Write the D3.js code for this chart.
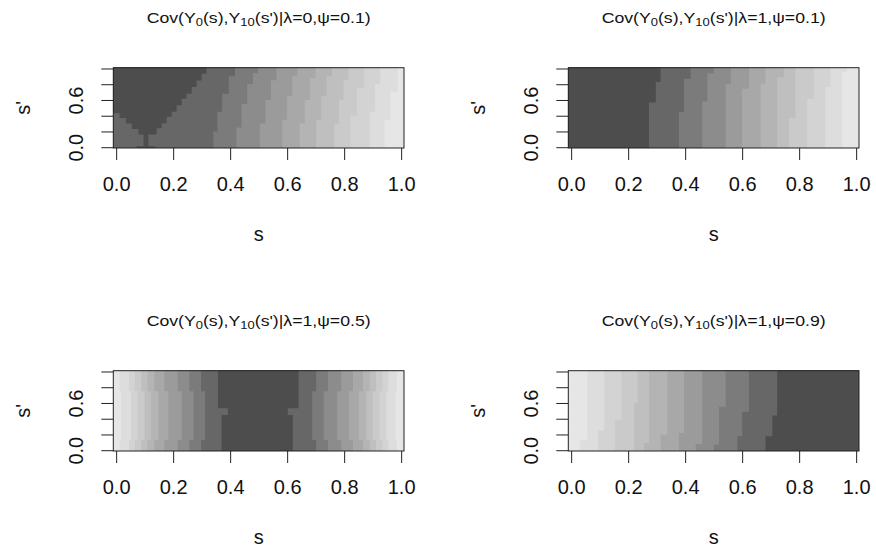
<!DOCTYPE html>
<html>
<head>
<meta charset="utf-8">
<script src="https://cdn.jsdelivr.net/npm/d3@7"></script>
<style>
body{margin:0;background:#fff}
text{font-family:"Liberation Sans",Arial,Helvetica,sans-serif;fill:#111}
</style>
</head>
<body>
<div id="chart"></div>
<script>
// panel parameters (titles)
var lambdas=[0,1,1,1];
var psis=[0.1,0.1,0.5,0.9];
var xTicks=[0,0.2,0.4,0.6,0.8,1];
var yTicks=[0,0.2,0.4,0.6,0.8,1];
var yTickLabels=[0,0.6];
var nLevels=12;

// contour regions, level k = area where level <= k
// each boundary is a list of steps [s' from, s], null = edge of the plot
var p1Lo=[
  [[-0.01,0.072],[0.013,0.096],[0.16,0.078],[0.23,0.055],[0.30,0.035],[0.37,0.012],[0.433,-0.01]],
  null,null,null,null,null,null,null,null,null,null];
var p1Hi=[
  [[-0.01,0.137],[0.013,0.113],[0.16,0.142],[0.24,0.16],[0.303,0.177],[0.387,0.195],[0.45,0.212],[0.534,0.23],[0.617,0.247],[0.68,0.265],[0.765,0.282],[0.848,0.30],[0.932,0.317]],
  [[-0.01,0.341],[0.2,0.355],[0.45,0.372],[0.68,0.395],[0.9,0.417]],
  [[-0.01,0.422],[0.25,0.44],[0.55,0.46],[0.8,0.48],[0.94,0.498]],
  [[-0.01,0.504],[0.3,0.524],[0.6,0.543],[0.85,0.562]],
  [[-0.01,0.583],[0.35,0.6],[0.65,0.618],[0.9,0.635]],
  [[-0.01,0.644],[0.3,0.662],[0.6,0.68],[0.88,0.70]],
  [[-0.01,0.702],[0.35,0.72],[0.65,0.738],[0.9,0.757]],
  [[-0.01,0.766],[0.3,0.782],[0.6,0.798],[0.85,0.815]],
  [[-0.01,0.822],[0.4,0.845],[0.75,0.87]],
  [[-0.01,0.889],[0.45,0.908],[0.8,0.927]],
  [[-0.01,0.942],[0.35,0.962],[0.7,0.988]]];

var p2Lo=[null,null,null,null,null,null,null,null,null,null,null];
var p2Hi=[
  [[-0.01,0.273],[0.567,0.297],[0.827,0.314]],
  [[-0.01,0.378],[0.45,0.396],[0.869,0.419]],
  [[-0.01,0.46],[0.58,0.478],[0.937,0.50]],
  [[-0.01,0.542],[0.80,0.56]],
  [[-0.01,0.60],[0.743,0.624]],
  [[-0.01,0.665],[0.806,0.682]],
  [[-0.01,0.723],[0.89,0.746]],
  [[-0.01,0.764],[0.37,0.787]],
  [[-0.01,0.828],[0.617,0.852]],
  [[-0.01,0.892],[0.765,0.91]],
  [[-0.01,0.951],[0.96,0.968]]];

var p3Lo=[
  [[-0.01,0.37],[0.448,0.392],[0.532,0.357]],
  [[-0.01,0.298],[0.13,0.312],[0.75,0.298]],
  [[-0.01,0.257],[0.13,0.272],[0.75,0.257]],
  [[-0.01,0.216],[0.13,0.23],[0.75,0.216]],
  [[-0.01,0.169],[0.13,0.183],[0.75,0.169]],
  [[-0.01,0.134],[0.13,0.148],[0.75,0.134]],
  [[-0.01,0.11],[0.13,0.122],[0.75,0.11]],
  [[-0.01,0.088],[0.13,0.1],[0.75,0.088]],
  [[-0.01,0.065],[0.13,0.075],[0.75,0.065]],
  [[-0.01,0.045],[0.13,0.052],[0.75,0.045]],
  [[-0.01,0.012],[0.13,0.018],[0.75,0.012]]];
var p3Hi=[
  [[-0.01,0.62],[0.448,0.602],[0.532,0.64]],
  [[-0.01,0.702],[0.13,0.688],[0.75,0.702]],
  [[-0.01,0.743],[0.13,0.728],[0.75,0.743]],
  [[-0.01,0.79],[0.13,0.776],[0.75,0.79]],
  [[-0.01,0.831],[0.13,0.817],[0.75,0.831]],
  [[-0.01,0.866],[0.13,0.852],[0.75,0.866]],
  [[-0.01,0.89],[0.13,0.878],[0.75,0.89]],
  [[-0.01,0.912],[0.13,0.9],[0.75,0.912]],
  [[-0.01,0.935],[0.13,0.925],[0.75,0.935]],
  [[-0.01,0.955],[0.13,0.948],[0.75,0.955]],
  [[-0.01,0.985],[0.13,0.98],[0.75,0.985]]];

var p4Lo=[
  [[-0.01,0.682],[0.176,0.706],[0.44,0.723]],
  [[-0.01,0.583],[0.176,0.60],[0.49,0.624]],
  [[-0.01,0.501],[0.072,0.519],[0.552,0.542]],
  [[-0.01,0.437],[0.08,0.46]],
  [[-0.01,0.378],[0.22,0.396]],
  [[-0.01,0.314],[0.2,0.338]],
  [[-0.01,0.256],[0.093,0.273]],
  [[-0.01,0.221],[0.595,0.233]],
  [[-0.01,0.154],[0.385,0.177]],
  [[-0.01,0.095],[0.25,0.116]],
  [[-0.01,0.031],[0.134,0.057]]];
var p4Hi=[null,null,null,null,null,null,null,null,null,null,null];

var los=[p1Lo,p2Lo,p3Lo,p4Lo];
var his=[p1Hi,p2Hi,p3Hi,p4Hi];

var W=876, H=550;
var panelLeft=[113.3,568.3,113.3,568.3];
var panelTop=[67.7,67.7,370.7,370.7];
var plotW=290.7, plotH=80.3;
var ext=[-0.01,1.01];

// grey palette like R gray.colors
var g0=Math.pow(0.3,2.2), g1=Math.pow(0.9,2.2);
var greys=d3.range(nLevels).map(function(i){
  var c=Math.round(255*Math.pow(g0+(g1-g0)*i/(nLevels-1),1/2.2));
  return d3.rgb(c,c,c).toString();
});

var svg=d3.select("#chart").append("svg").attr("width",W).attr("height",H);

function steps(b, edge){
  if(!b) b=[[ext[0],edge]];
  var pts=[];
  b.forEach(function(st,i){
    var y1= i<b.length-1 ? b[i+1][0] : ext[1];
    pts.push([st[1],st[0]],[st[1],y1]);
  });
  return pts;
}

var fmt=d3.format(".1f");

function drawPanel(p){
  var x0=panelLeft[p], y0=panelTop[p];
  var x=d3.scaleLinear().domain(ext).range([x0,x0+plotW]);
  var y=d3.scaleLinear().domain(ext).range([y0+plotH,y0]);
  var line=d3.line().x(function(d){return x(d[0]);}).y(function(d){return y(d[1]);});

  var g=svg.append("g");
  g.append("rect").attr("x",x0).attr("y",y0).attr("width",plotW).attr("height",plotH)
    .attr("fill",greys[nLevels-1]);

  for(var k=nLevels-2;k>=0;k--){
    var right=steps(his[p][k],ext[1]);
    var lft=steps(los[p][k],ext[0]).reverse();
    g.append("path").attr("d",line(right.concat(lft))+"Z").attr("fill",greys[k]);
  }

  //box
  g.append("rect").attr("x",x0).attr("y",y0).attr("width",plotW).attr("height",plotH)
    .attr("fill","none").attr("stroke","#222").attr("stroke-width",1);

  //X axis
  var xa=g.append("g").attr("transform","translate(0,"+(y0+plotH)+")")
    .call(d3.axisBottom(x).tickValues(xTicks).tickSize(12).tickPadding(17).tickFormat(fmt));
  xa.select(".domain").remove();
  xa.selectAll("line").attr("stroke","#222");
  xa.selectAll("text").attr("font-size","20px").attr("fill","#111");
  xa.attr("font-family",null);

  //Y axis
  var ya=g.append("g").attr("transform","translate("+x0+",0)")
    .call(d3.axisLeft(y).tickValues(yTicks).tickSize(12)
      .tickFormat(function(d){return yTickLabels.indexOf(d)>=0 ? fmt(d) : "";}));
  ya.select(".domain").remove();
  ya.attr("font-family",null);
  ya.selectAll("line").attr("stroke","#222");
  ya.selectAll("text").attr("font-size","20px").attr("fill","#111")
    .attr("transform","rotate(-90)").attr("x",0).attr("y",-30).attr("dy",null)
    .attr("text-anchor","middle");

  //title (stretched a little wider, like the reference)
  var t=g.append("text")
    .attr("transform","translate("+(x0+plotW/2)+","+(y0-44.5)+") scale(1.18,1)")
    .attr("text-anchor","middle").attr("font-size","15px");
  t.append("tspan").text("Cov(Y");
  t.append("tspan").attr("dy",3).attr("font-size","11px").text("0");
  t.append("tspan").attr("dy",-3).text("(s),Y");
  t.append("tspan").attr("dy",3).attr("font-size","11px").text("10");
  t.append("tspan").attr("dy",-3).text("(s')|\u03bb="+lambdas[p]+",\u03c8="+psis[p]+")");

  //labels
  g.append("text").attr("x",x0+plotW/2).attr("y",y0+plotH+93)
    .attr("text-anchor","middle").attr("font-size","20px").text("s");
  g.append("text").attr("transform","translate("+(x0-83)+","+(y0+plotH/2)+") rotate(-90)")
    .attr("text-anchor","middle").attr("font-size","20px").text("s'");
}

for(var i=0;i<4;i++) drawPanel(i);
</script>
</body>
</html>
